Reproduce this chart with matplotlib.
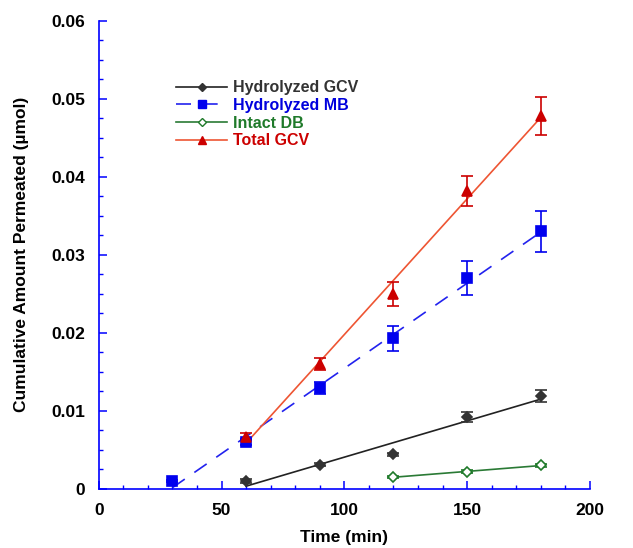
"""Cumulative amount permeated vs time - four series with linear fits"""

import numpy as np
import matplotlib
matplotlib.use("Agg")
import matplotlib.pyplot as plt
from matplotlib.lines import Line2D
from matplotlib.ticker import MultipleLocator, FormatStrFormatter

plt.rcParams['font.family'] = ['Liberation Sans', 'DejaVu Sans']
plt.rcParams['font.weight'] = 'bold'

# data
t_gcv = [60, 90, 120, 150, 180]
y_gcv = [0.0010, 0.0031, 0.0044, 0.0092, 0.0119]
e_gcv = [0.0002, 0.0002, 0.0002, 0.0006, 0.0008]

t_mb = [30, 60, 90, 120, 150, 180]
y_mb = [0.0010, 0.0060, 0.0129, 0.0193, 0.0270, 0.0330]
e_mb = [0.0001, 0.0004, 0.0008, 0.0016, 0.0022, 0.0026]

t_db = [120, 150, 180]
y_db = [0.0015, 0.0022, 0.0030]
e_db = [0.0001, 0.0002, 0.0002]

t_tot = [60, 90, 120, 150, 180]
y_tot = [0.0067, 0.0160, 0.0250, 0.0382, 0.0478]
e_tot = [0.0005, 0.0008, 0.0015, 0.0019, 0.0024]

labels = ['Hydrolyzed GCV', 'Hydrolyzed MB', 'Intact DB', 'Total GCV']

series = [
    # t, y, err, marker, marker colour, line colour, face, linestyle
    (t_gcv, y_gcv, e_gcv, 'D', '#333333', '#222222', '#333333', '-'),
    (t_mb, y_mb, e_mb, 's', '#0000ee', '#2222ee', '#0000ee', (0, (9, 7))),
    (t_db, y_db, e_db, 'D', '#1f7a2a', '#2a7a35', 'white', '-'),
    (t_tot, y_tot, e_tot, '^', '#cc0000', '#ee5533', '#cc0000', '-'),
]
msizes = [4.8, 7, 4.8, 7]

fig = plt.figure(figsize=(6.33, 5.48), dpi=100)
ax = fig.add_axes([0.156, 0.108, 0.776, 0.854])

handles = []
for (t, y, e, mk, mc, lc, fc, ls), ms in zip(series, msizes):
    t = np.asarray(t, float)
    y = np.asarray(y, float)
    slope, icpt = np.polyfit(t, y, 1)
    xs = np.array([t[0], t[-1]])
    ax.plot(xs, slope * xs + icpt, color=lc, lw=1.2, linestyle=ls, zorder=2)
    ax.errorbar(t, y, yerr=e, fmt=mk, ms=ms, mfc=fc, mec=mc, mew=1.2,
                ecolor=mc, elinewidth=1.2, capsize=4, capthick=1.2, zorder=3)
    handles.append(Line2D([], [], color=lc, lw=1.2, linestyle=ls, marker=mk,
                          ms=ms * 0.8, mfc=fc, mec=mc))

leg = ax.legend(handles, labels, loc='upper left', bbox_to_anchor=(0.128, 0.904),
                frameon=False, handlelength=3.2, handletextpad=0.4,
                labelspacing=0.17, fontsize=11.5,
                labelcolor=['#333333', '#0000dd', '#1f7a2a', '#cc0000'])
for txt in leg.get_texts():
    txt.set_fontweight('bold')

ax.set_xlim(0, 200)
ax.set_ylim(0, 0.06)
ax.xaxis.set_major_locator(MultipleLocator(50))
ax.xaxis.set_minor_locator(MultipleLocator(10))
ax.yaxis.set_major_locator(MultipleLocator(0.01))
ax.yaxis.set_minor_locator(MultipleLocator(0.0025))
ax.yaxis.set_major_formatter(FormatStrFormatter('%g'))

for side in ['top', 'right']:
    ax.spines[side].set_visible(False)
for side in ['left', 'bottom']:
    ax.spines[side].set_color('#0000ff')
    ax.spines[side].set_linewidth(1.2)

ax.tick_params(which='both', direction='in', color='#0000ff', labelsize=12.5)
ax.tick_params(which='major', length=6, width=1.1)
ax.tick_params(which='minor', length=3, width=1.0)
ax.tick_params(axis='x', pad=10)
ax.tick_params(axis='y', pad=10)
for lab in ax.get_xticklabels() + ax.get_yticklabels():
    lab.set_fontweight('bold')

ax.set_xlabel('Time (min)', fontsize=12.5, fontweight='bold', labelpad=9)
ax.set_ylabel('Cumulative Amount Permeated (µmol)', fontsize=12.5,
              fontweight='bold', labelpad=16)

fig.savefig('out.png', dpi=100)
